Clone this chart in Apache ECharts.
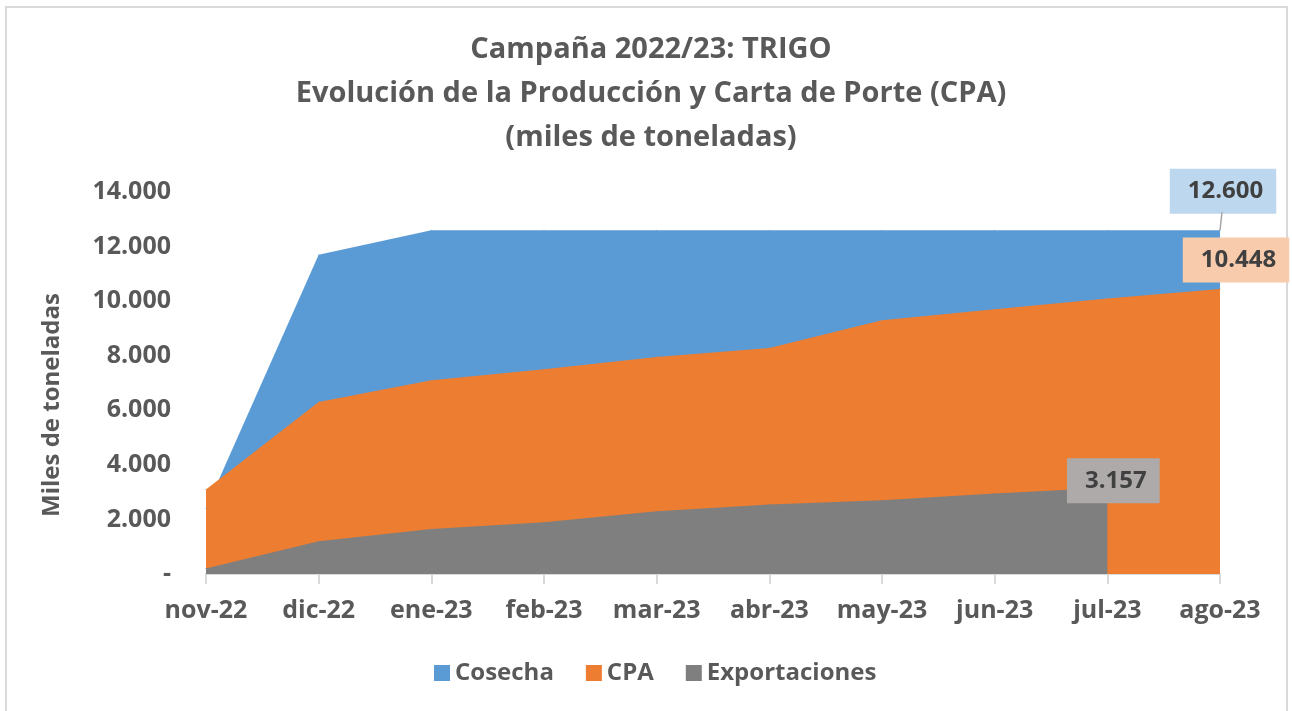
<!DOCTYPE html>
<html>
<head>
<meta charset="utf-8">
<title>Campaña 2022/23: TRIGO</title>
<script src="https://cdn.jsdelivr.net/npm/echarts@6/dist/echarts.min.js"></script>
<style>
  html, body { margin: 0; padding: 0; background: #fff; }
  #frame {
    position: absolute; left: 5px; top: 6px; width: 1283px; height: 720px;
    border: 2px solid #d9d9d9; box-sizing: border-box;
  }
  #chart { position: absolute; left: 0; top: 0; width: 1292px; height: 711px; }
</style>
</head>
<body>
<div id="frame"></div>
<div id="chart"></div>
<script>
// datos (miles de toneladas)
const meses = ['nov-22', 'dic-22', 'ene-23', 'feb-23', 'mar-23', 'abr-23', 'may-23', 'jun-23', 'jul-23', 'ago-23']
const cosecha = [2400, 11700, 12600, 12600, 12600, 12600, 12600, 12600, 12600, 12600]
const cpa = [3100, 6300, 7100, 7500, 7950, 8280, 9300, 9700, 10100, 10448]
const exportaciones = [200, 1200, 1650, 1900, 2300, 2550, 2700, 2950, 3157, null]
const yTicks = [0, 2000, 4000, 6000, 8000, 10000, 12000, 14000]

const FONT = '"Open Sans", Lato, sans-serif'
const TXT = '#595959'
const COLORS = ['#5b9bd5', '#ed7d31', '#7f7f7f']

// formato con punto de miles
const fmt = (v) => (v === 0 ? '-' : String(Math.round(v)).replace(/\B(?=(\d{3})+(?!\d))/g, '.'))

// etiqueta solo en un punto de la serie
const withLast = (arr, idx, label) =>
  arr.map((v, i) => (i === idx ? { value: v, label: Object.assign({ show: true }, label) } : v))

const boxLabel = (bg, offset) => ({
  formatter: (p) => fmt(p.value),
  position: 'inside',
  offset: offset,
  backgroundColor: bg,
  color: '#404040',
  fontFamily: FONT,
  fontWeight: 'bold',
  fontSize: 24,
  padding: [11, 13, 10, 18],
})

// serie de area sin linea; simbolo minimo para que se vea la etiqueta
const areaSerie = (name, color, data) => ({
  name: name,
  type: 'line',
  symbol: 'circle',
  symbolSize: 1,
  itemStyle: { color: color },
  lineStyle: { width: 0 },
  areaStyle: { color: color, opacity: 1 },
  emphasis: { disabled: true },
  data: data,
})

const chart = echarts.init(document.getElementById('chart'))

chart.setOption({
  animation: false,
  color: COLORS,
  title: {
    text: 'Campaña 2022/23: TRIGO\nEvolución de la Producción y Carta de Porte (CPA)\n(miles de toneladas)',
    left: 646,
    top: 23,
    textAlign: 'center',
    textStyle: {
      fontFamily: FONT,
      fontWeight: 'bold',
      fontSize: 29,
      lineHeight: 44,
      color: TXT,
    },
  },
  grid: { left: 206, right: 72, top: 192, bottom: 137 },
  legend: {
    bottom: 21,
    left: 429,
    icon: 'rect',
    itemWidth: 16,
    itemHeight: 16,
    itemGap: 32,
    textStyle: { fontFamily: FONT, fontWeight: 'bold', fontSize: 24, color: TXT },
    data: ['Cosecha', 'CPA', 'Exportaciones'],
  },
  xAxis: {
    type: 'category',
    data: meses,
    boundaryGap: false,
    axisLine: { lineStyle: { color: '#d9d9d9', width: 2 } },
    axisTick: { show: true, interval: 0, length: 10, lineStyle: { color: '#d9d9d9', width: 2 } },
    axisLabel: { interval: 0, margin: 24, fontFamily: FONT, fontWeight: 'bold', fontSize: 25, color: TXT },
  },
  yAxis: {
    type: 'value',
    min: yTicks[0],
    max: yTicks[yTicks.length - 1],
    interval: 2000,
    splitLine: { show: false },
    axisLine: { show: false },
    axisTick: { show: false },
    axisLabel: { margin: 35, fontFamily: FONT, fontWeight: 'bold', fontSize: 25, color: TXT, formatter: fmt },
  },
  series: [
    areaSerie('Cosecha', COLORS[0], withLast(cosecha, 9, boxLabel('#bdd7ee', [3, -39]))),
    areaSerie('CPA', COLORS[1], withLast(cpa, 9, boxLabel('#f8cbad', [16, -29]))),
    areaSerie('Exportaciones', COLORS[2], withLast(exportaciones, 8, boxLabel('#aeaaaa', [6, -7]))),
  ],
})

// linea guia de la etiqueta de cosecha y titulo del eje Y
const pt = chart.convertToPixel({ seriesIndex: 0 }, [meses.length - 1, cosecha[cosecha.length - 1]])
chart.setOption({
  graphic: [
    {
      type: 'line',
      shape: { x1: pt[0], y1: pt[1], x2: pt[0] + 2, y2: pt[1] - 18 },
      style: { stroke: '#a6a6a6', lineWidth: 1.5 },
      z: 10,
    },
    {
      type: 'text',
      x: 52,
      y: 405,
      rotation: Math.PI / 2,
      style: {
        text: 'Miles de toneladas',
        fontFamily: FONT,
        fontWeight: 'bold',
        fontSize: 24,
        fill: TXT,
        align: 'center',
        verticalAlign: 'middle',
      },
    },
  ],
})
</script>
</body>
</html>
